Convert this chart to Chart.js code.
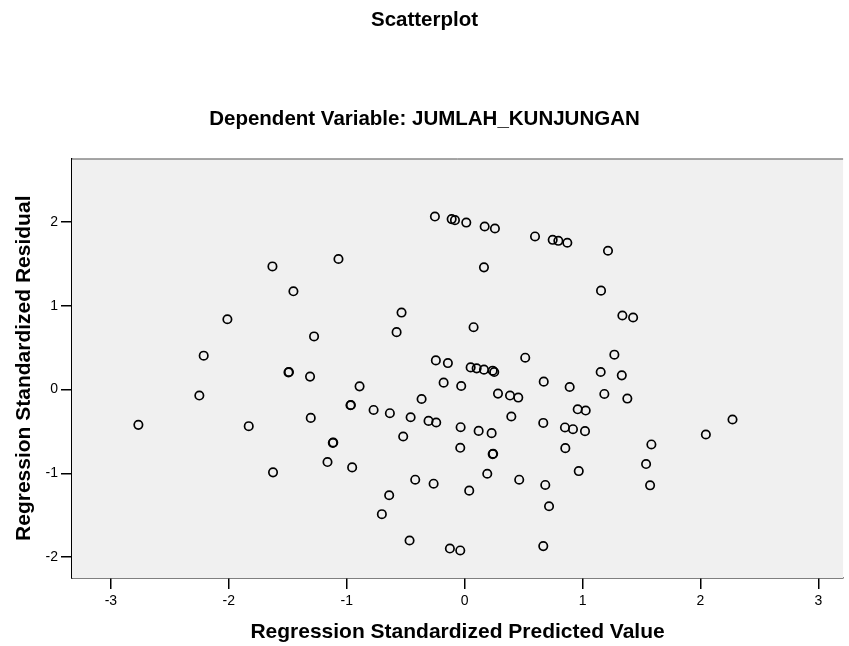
<!DOCTYPE html>
<html>
<head>
<meta charset="utf-8">
<title>Scatterplot</title>
<script src="https://cdn.jsdelivr.net/npm/chart.js@4.4.1/dist/chart.umd.min.js"></script>
<style>
    html, body { margin: 0; padding: 0; background: #fff; }
    #wrap { width: 849px; height: 646px; }
</style>
</head>
<body>
<div id="wrap"><canvas id="scatter" width="849" height="646"></canvas></div>
<script>
// Regression Standardized Predicted Value
const predicted = [
    -1.630, -1.452, -2.012, -1.277, -2.213, -1.494, -1.490, -1.311, -2.250, -2.767,
    -1.831, -1.305, -1.625, -0.252, -0.110, -0.082, 0.014, 0.170, 0.257, 0.597,
    0.747, 0.795, 0.871, -1.070, 0.164, -0.535, -0.577, 0.076, -0.244, -0.142,
    0.051, 0.102, 0.164, 0.238, 0.251, 0.514, 1.216, 1.157, 1.338, 1.429,
    1.270, 1.154, 1.333, -0.891, -0.968, -0.965, -0.772, -0.634, -0.365, -0.458,
    -0.306, -0.241, -0.521, -1.118, -1.114, -1.163, -0.954, -0.178, -0.029, -0.034,
    0.119, 0.229, -0.037, 0.238, 0.242, 0.192, -0.419, -0.263, 0.039, -0.640,
    -0.702, -0.467, -0.125, -0.037, 0.463, 0.671, 0.283, 0.385, 0.455, 0.396,
    0.667, 0.684, 0.716, 0.667, 0.891, 1.185, 1.380, 0.959, 1.027, 0.851,
    0.919, 1.021, 0.854, 0.968, 1.584, 1.539, 1.573, 2.046, 2.272
];
// Regression Standardized Residual
const residual = [
    1.471, 1.174, 0.840, 0.635, 0.405, 0.206, 0.210, 0.155, -0.071, -0.421,
    -0.437, -0.338, -0.988, 2.067, 2.036, 2.024, 1.995, 1.948, 1.924, 1.829,
    1.789, 1.777, 1.754, 1.560, 1.460, 0.920, 0.686, 0.745, 0.349, 0.317,
    0.265, 0.254, 0.238, 0.226, 0.210, 0.381, 1.658, 1.182, 0.885, 0.861,
    0.417, 0.210, 0.170, 0.039, -0.187, -0.184, -0.243, -0.282, -0.112, -0.330,
    -0.374, -0.393, -0.560, -0.636, -0.632, -0.865, -0.929, 0.083, 0.043, -0.449,
    -0.493, -0.520, -0.695, -0.770, -0.766, -1.005, -1.076, -1.124, -1.207, -1.262,
    -1.488, -1.802, -1.898, -1.921, -1.076, 0.095, -0.048, -0.071, -0.095, -0.321,
    -0.398, -1.139, -1.393, -1.869, 0.031, -0.052, -0.107, -0.235, -0.250, -0.452,
    -0.473, -0.496, -0.699, -0.973, -0.655, -0.889, -1.143, -0.536, -0.357
];

const xTicks = [-3, -2, -1, 0, 1, 2, 3];
const yTicks = [-2, -1, 0, 1, 2];

const points = predicted.map((x, i) => ({ x: x, y: residual[i] }));

const FONT = "'Liberation Sans', Arial, sans-serif";

// grey plot panel with a thin line along its top
const panel = {
    id: 'panel',
    beforeDatasetsDraw(chart) {
        const { ctx, chartArea } = chart;
        ctx.save();
        ctx.fillStyle = '#f0f0f0';
        ctx.fillRect(chartArea.left, chartArea.top, chartArea.right - chartArea.left, chartArea.bottom - chartArea.top);
        ctx.strokeStyle = '#555';
        ctx.lineWidth = 1;
        ctx.beginPath();
        ctx.moveTo(chartArea.left, chartArea.top + 0.5);
        ctx.lineTo(chartArea.right, chartArea.top + 0.5);
        ctx.stroke();
        ctx.restore();
    }
};

new Chart(document.getElementById('scatter'), {
    type: 'scatter',
    data: {
        datasets: [{
            data: points,
            pointStyle: 'circle',
            pointRadius: 4.2,
            pointHoverRadius: 4.2,
            borderWidth: 1.7,
            borderColor: '#000',
            backgroundColor: 'rgba(0,0,0,0)'
        }]
    },
    options: {
        responsive: false,
        animation: false,
        devicePixelRatio: 1,
        layout: { padding: 0 },
        plugins: {
            legend: { display: false },
            tooltip: { enabled: false },
            title: {
                display: true,
                text: 'Scatterplot',
                color: '#000',
                font: { family: FONT, size: 20.5, weight: 'bold', lineHeight: 1.2 },
                padding: { top: 7.7, bottom: 10 }
            },
            subtitle: {
                display: true,
                text: 'Dependent Variable: JUMLAH_KUNJUNGAN',
                color: '#000',
                font: { family: FONT, size: 20.5, weight: 'bold', lineHeight: 1.2 },
                padding: { top: 64.4, bottom: 27.2 }
            }
        },
        scales: {
            x: {
                type: 'linear',
                min: -3.33,
                max: 3.21,
                afterBuildTicks: s => { s.ticks = xTicks.map(v => ({ value: v })); },
                afterFit: s => { s.height = 68; },
                ticks: { color: '#000', font: { family: FONT, size: 14 }, padding: 4, maxRotation: 0 },
                grid: { drawOnChartArea: false, tickLength: 11, color: '#000', lineWidth: 1.5 },
                border: { display: true, color: '#000', width: 1.5 },
                title: {
                    display: true,
                    text: 'Regression Standardized Predicted Value',
                    color: '#000',
                    font: { family: FONT, size: 21, weight: 'bold', lineHeight: 1.2 },
                    padding: { top: 0, bottom: 1.4 }
                }
            },
            y: {
                type: 'linear',
                min: -2.25,
                max: 2.76,
                afterBuildTicks: s => { s.ticks = yTicks.map(v => ({ value: v })); },
                afterFit: s => { s.width = 72; },
                ticks: { color: '#000', font: { family: FONT, size: 14 }, padding: 3 },
                grid: { drawOnChartArea: false, tickLength: 11, color: '#000', lineWidth: 1.5 },
                border: { display: true, color: '#000', width: 1.5 },
                title: {
                    display: true,
                    text: 'Regression Standardized Residual',
                    color: '#000',
                    font: { family: FONT, size: 21, weight: 'bold', lineHeight: 1.2 },
                    padding: { top: 11.4, bottom: 0 }
                }
            }
        }
    },
    plugins: [panel]
});
</script>
</body>
</html>
